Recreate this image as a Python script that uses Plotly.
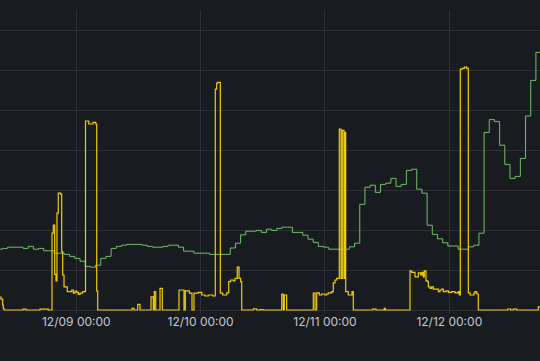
import datetime as dt
import plotly.graph_objects as go

# ---- data ----
base = dt.datetime(2023, 12, 9, 0, 0)

green_start = dt.datetime(2023, 12, 8, 8, 43)  # hourly samples
green_values = [
    15.2, 15.4, 15.7, 15.7, 15.7, 15.4, 15.9, 15.2, 15.4, 14.8,
    14.8, 14.2, 14.2, 13.9, 13.4, 12.9, 12.2, 10.9, 10.7, 11.2,
    12.9, 13.4, 15.4, 15.9, 16.2, 16.4, 16.4, 16.4, 16.2, 15.9,
    15.7, 15.7, 15.9, 16.2, 16.2, 15.7, 14.7, 14.7, 14.2, 14.2,
    14.2, 13.9, 13.9, 13.9, 13.9, 15.5, 16.7, 18.8, 19.7, 19.7,
    19.9, 19.4, 20.2, 19.9, 20.4, 20.7, 20.7, 19.4, 19.4, 18.7,
    17.7, 16.9, 15.9, 15.7, 15.2, 15.2, 15.2, 15.2, 15.8, 16.7,
    26.4, 30.7, 31.2, 29.4, 31.4, 31.7, 32.9, 30.9, 31.4, 34.9,
    35.2, 30.2, 29.2, 21.2, 18.9, 17.8, 16.8, 16.0, 16.0, 15.2,
    15.2, 15.8, 16.2, 19.2, 44.4, 47.6, 47.1, 41.2, 36.4, 32.9,
    33.4, 37.9, 48.5, 57.4, 64.4, 64.4,
]

# hours relative to 12/09 00:00, step values
yellow_hours = [
    -14.92, -14.54, -14.21, -14.09, -13.96, -10.29, -9.71, -7.01, -5.41,
    -4.69, -4.44, -4.17, -3.92, -3.73, -3.48, -3.01, -2.82, -2.63, -2.37,
    -1.74, -0.89, -0.58, -0.25, 0.08, 0.39, 0.71, 1.24, 1.78, 2.41, 3.22,
    3.75, 3.94, 4.13, 10.75, 11.14, 11.85, 12.30, 14.42, 14.86, 15.06,
    15.33, 16.16, 16.60, 19.82, 20.79, 21.04, 21.81, 22.33, 22.72, 23.55,
    24.21, 24.84, 25.48, 26.33, 26.83, 27.10, 27.29, 27.80, 28.26, 29.03,
    29.42, 29.80, 30.31, 30.63, 31.08, 31.41, 31.73, 31.93, 34.17, 34.82,
    35.46, 36.04, 39.65, 39.96, 40.15, 40.61, 45.75, 46.08, 46.40, 46.91,
    47.37, 48.01, 48.34, 48.64, 49.30, 49.61, 49.94, 50.27, 50.77, 51.10,
    51.35, 51.67, 51.81, 52.00, 52.50, 53.22, 53.47, 57.21, 57.85, 59.45,
    59.65, 64.41, 64.74, 65.38, 66.02, 66.48, 66.73, 66.98, 67.17, 67.50,
    67.83, 67.95, 68.28, 68.60, 68.91, 69.88, 70.21, 70.53, 70.84, 71.36,
    71.81, 72.46, 73.10, 73.74, 73.93, 74.12, 74.51, 74.90, 75.36, 75.67,
    76.00, 76.77, 76.96, 77.29, 77.60, 83.27, 83.85, 84.35, 85.01, 89.18,
    89.70,
]
yellow_values = [
    3.25, 2.7, 1.25, 0.4, 0.0, 0.2, 0.0, 0.2, 0.0,
    19.2, 21.25, 8.9, 7.25, 24.2, 29.2, 28.9, 14.6, 8.75, 5.8,
    4.6, 5.0, 4.2, 4.75, 4.4, 3.9, 4.2, 4.6, 47.25, 46.5, 46.9,
    46.5, 4.75, 0.0, 0.4, 0.0, 1.4, 0.0, 3.3, 0.0, 4.6,
    0.0, 5.4, 0.0, 5.0, 0.0, 4.8, 4.2, 0.0, 4.2, 4.4,
    3.75, 3.5, 3.75, 3.5, 55.2, 56.7, 56.9, 4.2, 3.75, 4.3,
    7.1, 7.5, 7.3, 7.9, 10.7, 7.9, 7.1, 0.0, 0.3, 0.0,
    0.1, 0.0, 4.0, 0.0, 3.75, 0.0, 4.2, 0.0, 4.3, 3.75,
    4.0, 3.75, 4.0, 4.3, 4.6, 6.8, 7.5, 7.9, 45.2, 7.9,
    44.9, 7.9, 44.4, 4.6, 3.75, 4.6, 0.0, 0.2, 0.0, 0.4,
    0.0, 9.8, 9.4, 8.3, 9.3, 8.75, 9.4, 8.3, 9.8, 7.3,
    7.1, 5.8, 5.4, 5.8, 5.2, 4.6, 5.0, 5.2, 4.6, 4.8,
    4.4, 4.6, 4.3, 4.6, 3.75, 60.2, 60.4, 60.7, 60.4, 4.3,
    3.75, 4.3, 4.6, 4.0, 0.0, 0.25, 0.0, 0.2, 0.0, 0.8,
    0.8,
]

tick_days = [9, 10, 11, 12]

# ---- build ----
green_x = [green_start + dt.timedelta(hours=i) for i in range(len(green_values))]
yellow_x = [base + dt.timedelta(hours=h) for h in yellow_hours]
tick_vals = [dt.datetime(2023, 12, d) for d in tick_days]

fig = go.Figure()
fig.add_trace(go.Scatter(x=green_x, y=green_values, mode="lines",
                         line=dict(color="#73BF69", width=1, shape="hv"),
                         hoverinfo="skip", showlegend=False))
fig.add_trace(go.Scatter(x=yellow_x, y=yellow_values, mode="lines",
                         line=dict(color="#F2CC0C", width=1.2, shape="hv"),
                         hoverinfo="skip", showlegend=False))

grid = "rgba(204,204,220,0.12)"
fig.update_layout(
    width=540, height=361,
    margin=dict(l=0, r=0, t=10, b=48),
    paper_bgcolor="#181b1f", plot_bgcolor="#181b1f",
    font=dict(family="Inter", size=12, color="#c7c7cf"),
    xaxis=dict(range=["2023-12-08 09:16:20", "2023-12-12 17:30:30"],
               tickvals=tick_vals, tickformat="%m/%d %H:%M",
               showgrid=True, gridcolor=grid, gridwidth=1,
               zeroline=False, showline=False, ticks=""),
    yaxis=dict(range=[-0.75, 75], tick0=0, dtick=10,
               showgrid=True, gridcolor=grid, gridwidth=1,
               zeroline=False, showticklabels=False, showline=False),
)

fig.write_html(
    "out.html",
    config={"displayModeBar": False},
    post_script="document.body.style.margin='0';document.body.style.overflow='hidden';document.body.style.background='#181b1f';",
)
